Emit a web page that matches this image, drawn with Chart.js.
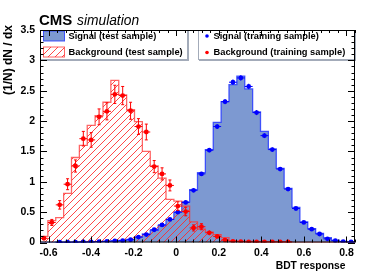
<!DOCTYPE html>
<html>
<head>
<meta charset="utf-8">
<script src="https://cdn.jsdelivr.net/npm/chart.js@4.4.1/dist/chart.umd.min.js"></script>
<style>
  html, body { margin: 0; padding: 0; background: #fff; overflow: hidden; }
  canvas { display: block; }
</style>
</head>
<body>
<canvas id="bdtChart" width="374" height="276"></canvas>
<script>
// binning of the BDT response histograms
const xMin = -0.64;
const xMax = 0.84;
const nBins = 40;

// x / y tick labels
const xTicks = [-0.6, -0.4, -0.2, 0, 0.2, 0.4, 0.6, 0.8];
const yTicks = [0, 0.5, 1, 1.5, 2, 2.5, 3, 3.5];

// test sample histograms (1/N dN/dx per bin)
const sigTest = [0, 0, 0.005, 0.005, 0.005, 0.008, 0.01, 0.015, 0.02, 0.025,
  0.035, 0.05, 0.09, 0.14, 0.2, 0.28, 0.38, 0.5, 0.67, 0.87,
  1.15, 1.53, 1.98, 2.32, 2.6, 2.74, 2.53, 2.15, 1.83, 1.54,
  1.22, 0.89, 0.58, 0.34, 0.23, 0.15, 0.08, 0.04, 0.02, 0.01];
const bkgTest = [0.1, 0.36, 0.41, 0.81, 1.4, 1.6, 1.93, 2.09, 2.31, 2.67,
  2.43, 2.19, 1.99, 1.5, 1.26, 1.06, 0.71, 0.68, 0.6, 0.34,
  0.22, 0.17, 0.13, 0.08, 0.03, 0.02, 0.02, 0.015, 0.01, 0.01,
  0.008, 0.005, 0.003, 0, 0, 0, 0, 0, 0, 0];

// training sample points and their errors
const sigTrain = [null, null, 0.004, 0.004, 0.006, 0.008, 0.01, 0.015, 0.02, 0.025,
  0.03, 0.045, 0.09, 0.13, 0.21, 0.29, 0.38, 0.5, 0.66, 0.86,
  1.13, 1.52, 1.91, 2.32, 2.64, 2.71, 2.57, 2.14, 1.76, 1.53,
  1.21, 0.88, 0.56, 0.33, 0.22, 0.14, 0.06, 0.03, 0.015, 0.008];
const sigErr = [0, 0, 0.003, 0.003, 0.004, 0.004, 0.005, 0.006, 0.007, 0.008,
  0.008, 0.01, 0.012, 0.015, 0.018, 0.02, 0.022, 0.025, 0.028, 0.03,
  0.032, 0.035, 0.04, 0.042, 0.045, 0.045, 0.045, 0.042, 0.04, 0.035,
  0.032, 0.03, 0.025, 0.02, 0.015, 0.012, 0.01, 0.006, 0.004, 0.003];
const bkgTrain = [0.07, 0.33, 0.62, 0.96, 1.26, 1.71, 1.69, 2.07, 2.16, 2.44,
  2.42, 2.17, 1.91, 1.82, 1.25, 1.13, 0.94, 0.6, 0.51, 0.24,
  0.26, 0.16, 0.1, 0.04, 0.02, 0.015, 0.01, 0.01, 0.01, 0.01,
  0.01, 0.01, null, null, null, null, null, null, null, null];
const bkgErr = [0.03, 0.05, 0.07, 0.09, 0.1, 0.12, 0.12, 0.13, 0.14, 0.15,
  0.15, 0.14, 0.13, 0.13, 0.1, 0.1, 0.09, 0.07, 0.07, 0.05,
  0.05, 0.04, 0.03, 0.02, 0.015, 0.01, 0.01, 0.01, 0.01, 0.01,
  0.01, 0.01, 0, 0, 0, 0, 0, 0, 0, 0];

const FONT = "'Liberation Sans', Arial, Helvetica, sans-serif";
const binW = (xMax - xMin) / nBins;
const edges = [];
for (let i = 0; i <= nBins; i++) edges.push(xMin + i * binW);

// step outline: start on baseline, one point per left edge, back to baseline
function histPoints(vals) {
  const pts = [{ x: edges[0], y: 0 }];
  vals.forEach((v, i) => pts.push({ x: edges[i], y: v }));
  pts.push({ x: edges[nBins], y: 0 });
  return pts;
}

function markerPoints(vals, errs) {
  const pts = [];
  vals.forEach((v, i) => {
    if (v !== null) pts.push({ x: (edges[i] + edges[i + 1]) / 2, y: v, err: errs[i] });
  });
  return pts;
}

// red hatching for the background histogram
function makeHatch() {
  const s = 7;
  const c = document.createElement("canvas");
  c.width = s; c.height = s;
  const g = c.getContext("2d");
  g.strokeStyle = "rgba(255,40,40,0.85)";
  g.lineWidth = 1;
  g.beginPath();
  g.moveTo(0, s); g.lineTo(s, 0);
  g.moveTo(-1, 1); g.lineTo(1, -1);
  g.moveTo(s - 1, s + 1); g.lineTo(s + 1, s - 1);
  g.stroke();
  return g.createPattern(c, "repeat");
}
const hatch = makeHatch();

const SIG_FILL = "#7d99d1";
const SIG_LINE = "rgba(40,60,255,0.85)";
const BKG_LINE = "rgba(255,50,50,0.75)";

// error bars under the training points
const errorBars = {
  id: "errorBars",
  beforeDatasetDraw(chart, args) {
    const ds = chart.data.datasets[args.index];
    if (!ds.errorBars) return;
    const { ctx, scales: { x, y } } = chart;
    ctx.save();
    ctx.strokeStyle = ds.backgroundColor;
    ctx.lineWidth = 1;
    ds.data.forEach(p => {
      const px = x.getPixelForValue(p.x);
      const py = y.getPixelForValue(p.y);
      const x0 = x.getPixelForValue(p.x - binW / 2);
      const x1 = x.getPixelForValue(p.x + binW / 2);
      const yTop = y.getPixelForValue(p.y + p.err);
      const yBot = y.getPixelForValue(Math.max(0, p.y - p.err));
      ctx.beginPath();
      ctx.moveTo(x0, py); ctx.lineTo(x1, py);
      ctx.moveTo(px, yTop); ctx.lineTo(px, yBot);
      if (py - yTop > 3) {
        ctx.moveTo(px - 1.5, yTop); ctx.lineTo(px + 1.5, yTop);
        ctx.moveTo(px - 1.5, yBot); ctx.lineTo(px + 1.5, yBot);
      }
      ctx.stroke();
    });
    ctx.restore();
  }
};

// legend boxes, frame with inside ticks, titles
const decorations = {
  id: "decorations",
  afterDraw(chart) {
    const { ctx, chartArea: a, scales: { x, y } } = chart;
    ctx.save();

    // legend boxes
    const boxes = [[a.left, 188], [198, a.right]];
    const lBottom = 60;
    boxes.forEach(([l, r]) => {
      ctx.fillStyle = "#fff";
      ctx.fillRect(l, a.top, r - l, lBottom - a.top);
      ctx.strokeStyle = "#a3abb9";
      ctx.lineWidth = 1;
      ctx.strokeRect(l + 0.5, a.top + 0.5, r - l - 1, lBottom - a.top - 1);
      ctx.lineWidth = 2;
      ctx.beginPath();
      ctx.moveTo(l + 1, lBottom); ctx.lineTo(r, lBottom); ctx.lineTo(r, a.top);
      ctx.stroke();
    });

    ctx.font = "bold 9.3px " + FONT;
    ctx.textBaseline = "middle";
    ctx.textAlign = "left";
    ctx.fillStyle = "#000";
    // signal test
    ctx.fillStyle = SIG_FILL;
    ctx.fillRect(43.5, 31, 21, 10);
    ctx.strokeStyle = SIG_LINE; ctx.lineWidth = 1;
    ctx.strokeRect(43.5, 31, 21, 10);
    // background test
    ctx.fillStyle = hatch;
    ctx.fillRect(43.5, 47, 21, 10);
    ctx.strokeStyle = BKG_LINE;
    ctx.strokeRect(43.5, 47, 21, 10);
    ctx.fillStyle = "#000";
    ctx.fillText("Signal (test sample)", 68.5, 36.5);
    ctx.fillText("Background (test sample)", 68.5, 52.5);
    // training markers
    ctx.fillStyle = "#0000ff";
    ctx.beginPath(); ctx.arc(207, 36, 1.8, 0, Math.PI * 2); ctx.fill();
    ctx.fillStyle = "#ff0000";
    ctx.beginPath(); ctx.arc(207, 52.5, 1.8, 0, Math.PI * 2); ctx.fill();
    ctx.fillStyle = "#000";
    ctx.fillText("Signal (training sample)", 213.5, 36.5);
    ctx.fillText("Background (training sample)", 213.5, 52.5);

    // frame
    ctx.strokeStyle = "#000";
    ctx.lineWidth = 1;
    ctx.strokeRect(a.left + 0.5, a.top + 0.5, a.right - a.left - 1, a.bottom - a.top - 1);

    // inside ticks
    ctx.beginPath();
    for (let k = -16; k <= 21; k++) {
      const v = k * 0.04;
      if (v < xMin - 1e-9 || v > xMax + 1e-9) continue;
      const px = Math.round(x.getPixelForValue(v)) + 0.5;
      const len = (k % 5 === 0) ? 6 : 3;
      ctx.moveTo(px, a.bottom); ctx.lineTo(px, a.bottom - len);
      ctx.moveTo(px, a.top); ctx.lineTo(px, a.top + len);
    }
    for (let k = 0; k <= 35; k++) {
      const py = Math.round(y.getPixelForValue(k * 0.1)) + 0.5;
      const len = (k % 5 === 0) ? 7 : 3.5;
      ctx.moveTo(a.left, py); ctx.lineTo(a.left + len, py);
      ctx.moveTo(a.right, py); ctx.lineTo(a.right - len, py);
    }
    ctx.stroke();

    // CMS simulation
    ctx.textBaseline = "alphabetic";
    ctx.font = "bold 15px " + FONT;
    ctx.fillText("CMS", 39, 25);
    ctx.font = "italic 13.8px " + FONT;
    ctx.fillText("simulation", 77, 25);

    // axis titles
    ctx.font = "bold 10.3px " + FONT;
    ctx.textAlign = "right";
    ctx.fillText("BDT response", 345.5, 269);
    ctx.translate(8.5, 25);
    ctx.rotate(-Math.PI / 2);
    ctx.font = "bold 12px " + FONT;
    ctx.textBaseline = "middle";
    ctx.fillText("(1/N) dN / dx", 0, 0);
    ctx.restore();
  }
};

new Chart(document.getElementById("bdtChart"), {
  type: "scatter",
  data: {
    datasets: [
      {
        label: "Background (training sample)",
        data: markerPoints(bkgTrain, bkgErr),
        errorBars: true,
        backgroundColor: "#ff0000",
        pointRadius: 2.4,
        pointBorderWidth: 0,
        showLine: false
      },
      {
        label: "Signal (training sample)",
        data: markerPoints(sigTrain, sigErr),
        errorBars: true,
        backgroundColor: "#0000ff",
        pointRadius: 2.4,
        pointBorderWidth: 0,
        showLine: false
      },
      {
        type: "line",
        label: "Background (test sample)",
        data: histPoints(bkgTest),
        stepped: true,
        fill: "origin",
        backgroundColor: hatch,
        borderColor: BKG_LINE,
        borderWidth: 1.3,
        pointRadius: 0
      },
      {
        type: "line",
        label: "Signal (test sample)",
        data: histPoints(sigTest),
        stepped: true,
        fill: "origin",
        backgroundColor: SIG_FILL,
        borderColor: SIG_LINE,
        borderWidth: 1.3,
        pointRadius: 0
      }
    ]
  },
  options: {
    responsive: false,
    animation: false,
    devicePixelRatio: 1,
    layout: { padding: { top: 30, right: 19, left: 0, bottom: 0 } },
    plugins: {
      legend: { display: false },
      tooltip: { enabled: false },
      title: { display: false }
    },
    scales: {
      x: {
        type: "linear",
        min: xMin,
        max: xMax,
        afterFit(scale) { scale.height = 33.5; },
        afterBuildTicks(scale) { scale.ticks = xTicks.map(v => ({ value: v })); },
        grid: { display: false, drawTicks: false },
        border: { display: false },
        ticks: {
          padding: 4.5,
          maxRotation: 0,
          autoSkip: false,
          color: "#000",
          font: { family: FONT, size: 10.5, weight: "bold" },
          callback: v => Math.abs(v) < 1e-9 ? "0" : v.toFixed(1)
        }
      },
      y: {
        type: "linear",
        min: 0,
        max: 3.5,
        afterFit(scale) { scale.width = 40; },
        afterBuildTicks(scale) { scale.ticks = yTicks.map(v => ({ value: v })); },
        grid: { display: false, drawTicks: false },
        border: { display: false },
        ticks: {
          padding: 5,
          autoSkip: false,
          color: "#000",
          font: { family: FONT, size: 10.5, weight: "bold" },
          callback: v => String(+v.toFixed(1))
        }
      }
    }
  },
  plugins: [errorBars, decorations]
});
</script>
</body>
</html>
